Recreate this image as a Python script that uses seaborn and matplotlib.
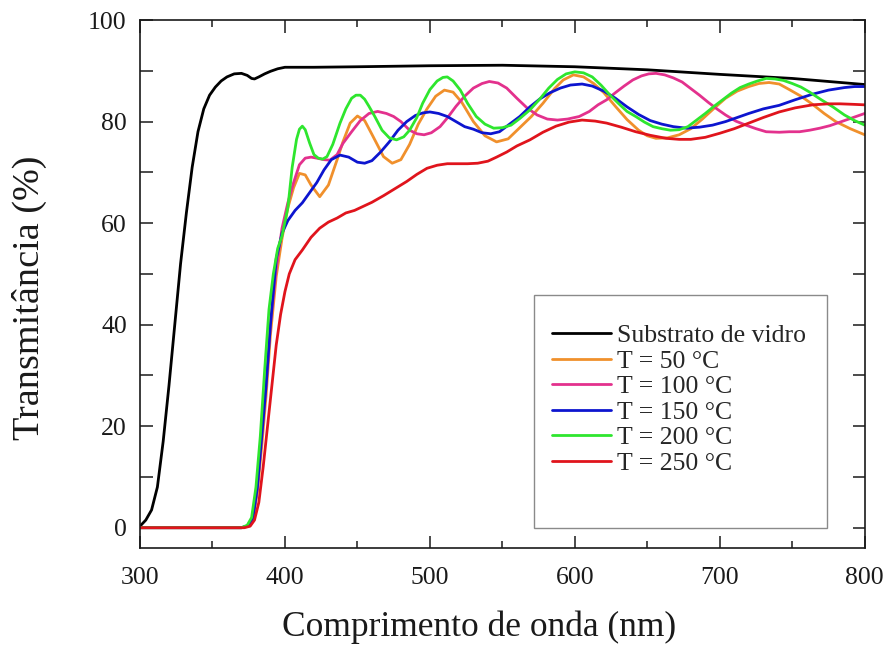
import numpy as np
import pandas as pd
import matplotlib
matplotlib.use("Agg")
import matplotlib.pyplot as plt
from matplotlib.patches import Rectangle
import seaborn as sns

# ---------------- data ----------------
series_names = ["Substrato de vidro", "T = 50 °C", "T = 100 °C",
                "T = 150 °C", "T = 200 °C", "T = 250 °C"]

x_glass = [300, 304, 308, 312, 316, 320, 324, 328, 332, 336, 340, 344, 348, 352,
           356, 360, 365, 370, 374, 377, 379, 382, 386, 390, 395, 400, 420, 450,
           500, 550, 600, 650, 700, 750, 800]
y_glass = [0.3, 1.5, 3.5, 8, 17, 28, 40, 52, 62, 71, 78, 82.5, 85.2, 86.8,
           88, 88.8, 89.4, 89.5, 89.1, 88.5, 88.4, 88.8, 89.4, 89.9, 90.4, 90.7, 90.7, 90.8,
           91.0, 91.1, 90.8, 90.2, 89.3, 88.5, 87.3]

x_t50 = [300, 370, 375, 378, 381, 384, 387, 390, 394, 398, 402, 406, 410, 414, 418,
         424, 430, 436, 440, 445, 450, 455, 460, 468, 474, 480, 486, 492, 498, 504,
         510, 516, 522, 530, 538, 546, 554, 562, 570, 578, 586, 592, 599, 606, 613,
         620, 628, 636, 644, 650, 656, 664, 672, 680, 688, 696, 704, 712, 720, 727,
         734, 741, 748, 756, 764, 772, 780, 790, 800]
y_t50 = [0, 0, 0.3, 2, 7, 16, 26, 38, 49.5, 57, 63, 67, 69.8, 69.5, 67.5,
         65.2, 67.5, 72.5, 76, 79.7, 81.1, 80.2, 77.5, 73.1, 71.8, 72.5, 75.5, 79.5, 82.5, 85,
         86.2, 85.8, 83.8, 80, 77.2, 76, 76.6, 78.8, 81, 83.6, 86.5, 88.2, 89.2, 88.8, 87.5,
         85.7, 83, 80.4, 78.3, 77.2, 76.7, 76.8, 77.4, 78.6, 80.5, 82.6, 84.6, 86, 86.9, 87.5,
         87.7, 87.4, 86.3, 85, 83.4, 81.6, 80, 78.6, 77.4]

x_t100 = [300, 370, 375, 378, 381, 384, 387, 390, 394, 398, 402, 406, 410, 414, 418,
          422, 427, 431, 436, 440, 446, 452, 458, 464, 470, 475, 480, 486, 491, 496,
          501, 507, 512, 518, 524, 530, 536, 541, 547, 553, 560, 567, 574, 581, 588,
          595, 603, 610, 616, 622, 628, 634, 640, 646, 651, 656, 662, 668, 674, 680,
          686, 692, 698, 704, 711, 718, 725, 732, 741, 748, 755, 762, 769, 776, 784,
          792, 800]
y_t100 = [0, 0, 0.4, 2, 8, 18, 28, 40, 51, 59, 64, 68, 71.5, 72.8, 73,
          72.8, 72.5, 72.4, 73.5, 75.7, 78, 80.2, 81.6, 82, 81.6, 81, 80, 78.3, 77.6, 77.4,
          77.8, 79, 80.7, 83, 85, 86.6, 87.5, 87.9, 87.6, 86.6, 84.6, 82.7, 81.3, 80.5, 80.3,
          80.5, 81, 82, 83.3, 84.3, 85.7, 87, 88.2, 89, 89.4, 89.5, 89.2, 88.6, 87.8, 86.5,
          85.2, 83.8, 82.5, 81.3, 80.1, 79.3, 78.6, 78, 77.9, 78, 78, 78.3, 78.7, 79.2, 80,
          80.8, 81.6]

x_t150 = [300, 370, 375, 378, 381, 384, 387, 390, 394, 398, 402, 407, 412, 417, 422,
          427, 432, 438, 444, 450, 455, 460, 466, 472, 478, 484, 490, 495, 500, 506,
          512, 518, 524, 530, 536, 542, 548, 555, 562, 569, 576, 583, 590, 597, 605,
          612, 620, 628, 636, 644, 652, 660, 668, 677, 686, 695, 704, 712, 720, 730,
          741, 752, 764, 775, 786, 793, 800]
y_t150 = [0, 0, 0.4, 2, 8, 18, 28, 40, 53, 58, 60.5, 62.5, 64, 66, 68,
          70.5, 72.5, 73.4, 73, 72, 71.8, 72.3, 74, 76, 78.3, 80, 81.2, 81.7, 81.9, 81.6,
          81, 80, 79, 78.5, 77.8, 77.6, 78, 79.5, 81, 82.9, 84.5, 85.7, 86.6, 87.2, 87.4,
          87, 86, 84.6, 82.9, 81.4, 80.2, 79.5, 79, 78.7, 78.9, 79.3, 80, 80.8, 81.6, 82.5,
          83.2, 84.3, 85.4, 86.2, 86.7, 86.9, 86.9]

x_t200 = [300, 370, 374, 377, 380, 383, 386, 389, 392, 395, 398, 402, 405, 408, 410,
          412, 414, 417, 420, 423, 426, 429, 433, 438, 442, 446, 449, 452, 455, 458,
          462, 467, 472, 477, 482, 486, 491, 495, 500, 505, 509, 512, 516, 521, 526,
          532, 538, 544, 550, 556, 562, 569, 576, 582, 588, 594, 600, 606, 612, 618,
          624, 630, 636, 642, 648, 654, 660, 666, 672, 678, 684, 690, 696, 702, 708,
          714, 720, 726, 732, 738, 744, 750, 756, 762, 770, 778, 786, 793, 800]
y_t200 = [0, 0, 0.5, 2, 8, 18, 31, 43, 50, 55, 57.5, 63, 71, 76.5, 78.5,
          79.1, 78.4, 75.8, 73.5, 72.8, 72.6, 73.1, 75.5, 79.7, 82.5, 84.6, 85.2, 85.2, 84.4, 83,
          81, 78.3, 76.8, 76.4, 77, 78.3, 80.8, 83.6, 86.3, 88, 88.7, 88.8, 88, 86.2, 83.6,
          81, 79.5, 78.7, 78.8, 79.3, 80.6, 82.3, 84.5, 86.6, 88.3, 89.4, 89.8, 89.6, 88.8, 87.2,
          85.3, 83.6, 82, 81, 79.9, 79, 78.6, 78.3, 78.4, 79, 80.3, 81.6, 83, 84.3, 85.6,
          86.7, 87.4, 88, 88.5, 88.4, 88.1, 87.5, 86.8, 85.8, 84.3, 82.9, 81.3, 80.2, 79.3]

x_t250 = [300, 372, 376, 379, 382, 385, 388, 391, 394, 397, 400, 403, 407, 412, 418,
          424, 430, 436, 442, 448, 454, 460, 468, 476, 484, 491, 498, 505, 512, 519,
          526, 533, 540, 546, 553, 560, 569, 578, 587, 596, 605, 614, 622, 632, 642,
          652, 663, 672, 680, 690, 700, 710, 720, 730, 741, 752, 764, 775, 783, 792, 800]
y_t250 = [0, 0, 0.3, 1.5, 5, 12, 20, 28, 36, 42, 46.5, 50, 52.8, 54.7, 57.2,
          59, 60.2, 61, 62, 62.5, 63.3, 64.1, 65.4, 66.8, 68.2, 69.6, 70.8, 71.4, 71.7, 71.7,
          71.7, 71.8, 72.2, 73, 74, 75.2, 76.4, 77.9, 79.1, 79.9, 80.3, 80.1, 79.7, 78.9, 78,
          77.3, 76.7, 76.5, 76.5, 76.9, 77.7, 78.6, 79.7, 80.8, 81.9, 82.7, 83.3, 83.5, 83.5, 83.4, 83.3]

x_ticks = [300, 400, 500, 600, 700, 800]
y_ticks = [0, 20, 40, 60, 80, 100]

colors = ["#000000", "#f0902c", "#e3318d", "#0d15cf", "#2ee62e", "#e0141c"]

# ---------------- build long table ----------------
xs = [x_glass, x_t50, x_t100, x_t150, x_t200, x_t250]
ys = [y_glass, y_t50, y_t100, y_t150, y_t200, y_t250]
frames = []
for name, xv, yv in zip(series_names, xs, ys):
    frames.append(pd.DataFrame({"x": xv, "y": yv, "series": name}))
df = pd.concat(frames, ignore_index=True)

# ---------------- plot ----------------
sns.set_style("ticks")
plt.rcParams["font.family"] = ["Liberation Serif", "DejaVu Serif"]

fig = plt.figure(figsize=(8.86, 6.47), dpi=100)
ax = fig.add_axes([0.158, 0.153, 0.818, 0.816])

sns.lineplot(data=df, x="x", y="y", hue="series", hue_order=series_names,
             palette=dict(zip(series_names, colors)), sort=False,
             estimator=None, linewidth=2.0, ax=ax)

ax.set_xlim(300, 800)
ax.set_ylim(-4, 100)
ax.set_xticks(x_ticks)
ax.set_yticks(y_ticks)
ax.set_xticks(np.arange(350, 800, 100), minor=True)
ax.set_yticks(np.arange(10, 100, 20), minor=True)

ax.tick_params(axis="both", which="both", direction="in", top=True, right=True,
               width=1.1, labelsize=18.5, colors="#1a1a1a")
ax.tick_params(axis="x", which="major", length=9, pad=14)
ax.tick_params(axis="x", which="minor", length=5)
ax.tick_params(axis="y", which="both", length=9, pad=9.5)
for s in ax.spines.values():
    s.set_linewidth(1.2)
    s.set_color("#1a1a1a")

ax.set_xlabel("Comprimento de onda (nm)", fontsize=25.5, color="#1a1a1a")
ax.set_ylabel("Transmitância (%)", fontsize=27.5, color="#1a1a1a")
ax.xaxis.set_label_coords(0.468, -0.118)
ax.yaxis.set_label_coords(-0.128, 0.473)

# legend box (gray frame) drawn as a rectangle in axes coordinates
ax.add_patch(Rectangle((0.5434, 0.0379), 0.9476 - 0.5434, 0.479 - 0.0379,
                       transform=ax.transAxes, facecolor="white",
                       edgecolor="#8a8a8a", linewidth=1.0, zorder=4))

leg = ax.legend(loc="upper left", bbox_to_anchor=(0.569, 0.424),
                borderaxespad=0, borderpad=0, fontsize=18.5, frameon=False,
                handlelength=2.3, handletextpad=0.2, labelspacing=0.1)
leg.set_zorder(5)
for line in leg.get_lines():
    line.set_linewidth(2.0)

fig.savefig("out.png", dpi=100)
